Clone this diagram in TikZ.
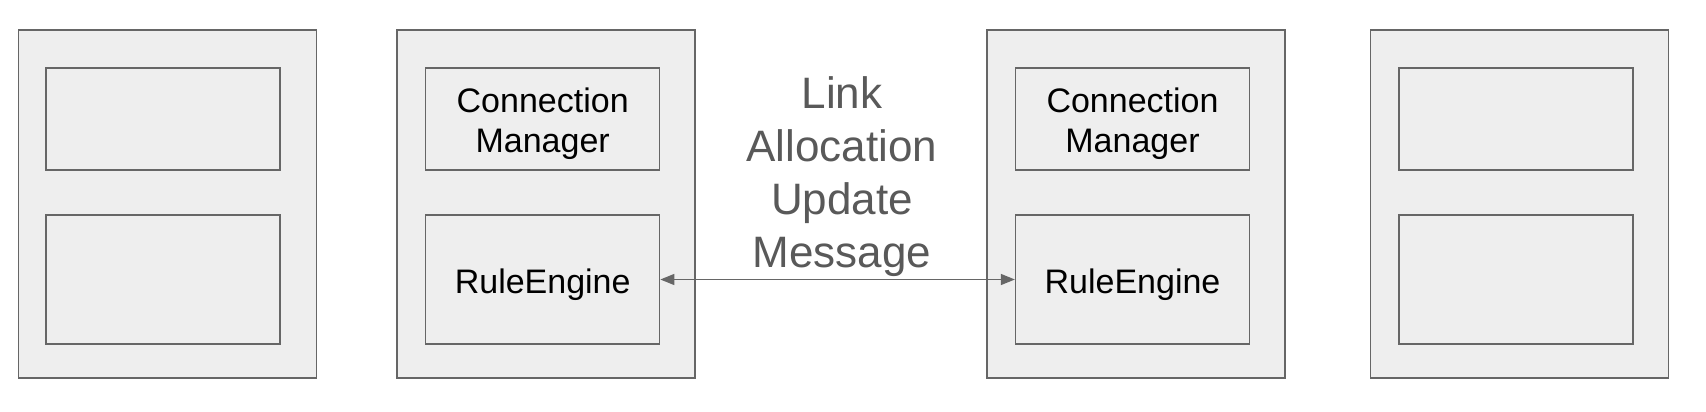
\documentclass[tikz,border=0pt]{standalone}
\usepackage{fontspec}
\setmainfont{Liberation Sans}
\usepackage{tikz}
\usetikzlibrary{positioning,arrows.meta}
\definecolor{boxfill}{HTML}{EEEEEE}
\definecolor{boxline}{HTML}{666666}
\definecolor{msgtext}{HTML}{595959}
\begin{document}
\begin{tikzpicture}
        [x=1pt,y=-1pt,
         host/.style={rectangle,draw=boxline,fill=boxfill,line width=1.3pt,
                      minimum width=298pt,minimum height=348pt,inner sep=0pt},
         part/.style={rectangle,draw=boxline,fill=boxfill,line width=1.3pt,
                      minimum width=234pt,inner sep=0pt},
         top/.style={part,minimum height=102pt},
         bot/.style={part,minimum height=129pt},
         lbl/.style={align=center,yshift=-5pt,font=\fontsize{34}{40}\selectfont},
         msg/.style={align=center,text=msgtext,font=\fontsize{44}{53}\selectfont}]
        \useasboundingbox (0,0) rectangle (1706,412);
        % hosts
        \node[host](h1) at (167.3,204){};
        \node[host](h2) at (546,204){};
        \node[host](h3) at (1136,204){};
        \node[host](h4) at (1519.5,204){};
        % parts
        \node[top](p1) at (163,119){};
        \node[bot](q1) at (163,279.5){};
        \node[top](cm2) at (542.7,119){};
        \node[bot](re2) at (542.7,279.5){};
        \node[top](cm3) at (1132.5,119){};
        \node[bot](re3) at (1132.5,279.5){};
        \node[top](p4) at (1516,119){};
        \node[bot](q4) at (1516,279.5){};
        \node[lbl](cm2t) at (cm2){Connection\\Manager};
        \node[lbl](re2t) at (re2){RuleEngine};
        \node[lbl](cm3t) at (cm3){Connection\\Manager};
        \node[lbl](re3t) at (re3){RuleEngine};
        % message
        \node[msg](m) at (842,177){Link\\Allocation\\Update\\Message};
        \draw[boxline,line width=1.3pt,{Triangle[length=14pt,width=11pt]}-{Triangle[length=14pt,width=11pt]}]
                (re2.east) -- (re3.west);
    \end{tikzpicture}
\end{document}
